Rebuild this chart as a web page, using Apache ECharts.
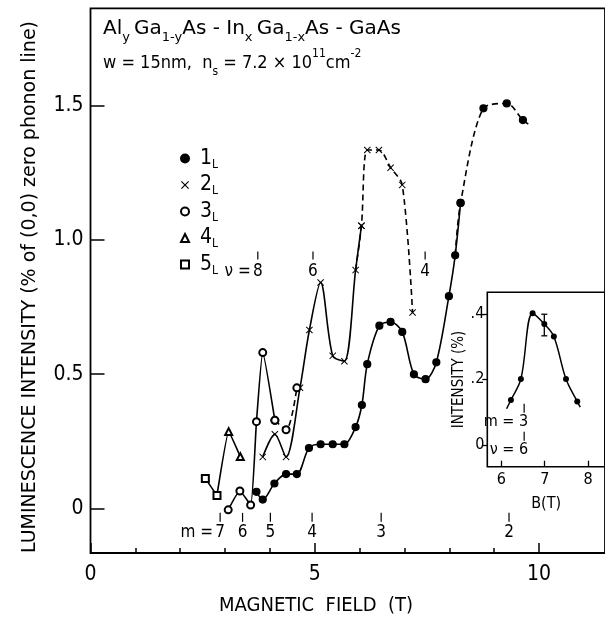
<!DOCTYPE html>
<html><head><meta charset="utf-8">
<script src="https://cdn.jsdelivr.net/npm/echarts@6/dist/echarts.min.js"></script>
<style>html,body{margin:0;padding:0;background:#fff}#c{width:605px;height:617px}</style>
</head><body><div id="c"></div>
<script>
const FONT = "'DejaVu Sans Condensed','Liberation Sans Narrow','DejaVu Sans',sans-serif";
const FONTW = "'DejaVu Sans',sans-serif";

// ---- main chart data (B in tesla, intensity in % of (0,0) zero phonon line)
const l1SolidB = [3.70,3.84,4.10,4.36,4.60,4.87,5.13,5.40,5.66,5.91,6.05,6.17,6.44,6.69,6.95,7.21,7.47,7.71,7.99,8.13,8.25];
const l1SolidI = [0.062,0.033,0.093,0.128,0.128,0.225,0.239,0.239,0.239,0.303,0.385,0.537,0.680,0.694,0.657,0.499,0.481,0.544,0.790,0.942,1.137];
const l1DashB = [8.25,8.76,9.28,9.64];
const l1DashI = [1.137,1.489,1.507,1.445];
const l1TailB = [9.76];
const l1TailI = [1.43];

const l2SolidB = [3.84,4.11,4.36,4.67,4.88,5.13,5.40,5.66,5.91,6.04];
const l2SolidI = [0.192,0.276,0.192,0.449,0.664,0.841,0.568,0.548,0.887,1.052];
const l2DashB = [6.04,6.17,6.43,6.69,6.95,7.18];
const l2DashI = [1.052,1.334,1.334,1.268,1.204,0.729];

const l3SolidB = [3.07,3.33,3.57,3.70,3.84,4.11];
const l3SolidI = [-0.005,0.065,0.013,0.323,0.580,0.328];
const l3DashB = [4.11,4.36,4.60];
const l3DashI = [0.328,0.293,0.449];

const l4B = [2.82,3.08,3.34];
const l4I = [0.05,0.286,0.193];

const l5B = [2.56,2.82];
const l5I = [0.112,0.048];

// Landau level markers
const mB = [2.89,3.39,4.01,4.94,6.48,9.33];
const mLab = ['7','6','5','4','3','2'];
const nuB = [3.73,4.96,7.46];
const nuLab = ['8','6','4'];

const yTicks = [0,0.5,1.0,1.5];
const xMajor = [0,5,10];
const xMinor = [1,2,3,4,6,7,8,9];

// ---- inset data
const insB = [6.22,6.45,6.72,6.99,7.21,7.49,7.75];
const insI = [0.137,0.201,0.402,0.369,0.331,0.201,0.132];
const insHeadB = [6.12], insHeadI = [0.11];
const insTailB = [7.82], insTailI = [0.115];
const errB = [6.99], errLo = [0.333], errHi = [0.399];
const insXTicks = [6,7,8];
const insYTicks = [0,0.2,0.4];

const CROSS = 'path://M0,1L1,0L5,4L9,0L10,1L6,5L10,9L9,10L5,6L1,10L0,9L4,5Z';

function pts(b, i) { return b.map((x, k) => [x, i[k]]); }
function line(name, data, symbol, dashed, extra) {
  return Object.assign({
    type: 'line', name, data, xAxisIndex: 0, yAxisIndex: 0,
    smooth: 0.3, symbol, symbolSize: 7, showSymbol: true,
    lineStyle: { color: '#000', width: 1.6, type: dashed ? [6, 4] : 'solid' },
    itemStyle: { color: '#000', borderColor: '#000', borderWidth: 1.2 },
    silent: true, animation: false, z: 3
  }, extra || {});
}
const hidden = v => ({ value: v, symbol: 'none' });

const chart = echarts.init(document.getElementById('c'), null, { renderer: 'canvas' });

// dashed continuations start one point earlier (no marker) so the curve stays smooth at the junction
const l1Dash = [hidden([l1SolidB[l1SolidB.length - 2], l1SolidI[l1SolidI.length - 2]])]
  .concat(pts(l1DashB, l1DashI)).concat(pts(l1TailB, l1TailI).map(hidden));
const l2Dash = [hidden([l2SolidB[l2SolidB.length - 2], l2SolidI[l2SolidI.length - 2]])]
  .concat(pts(l2DashB, l2DashI));
const l4Data = pts(l4B, l4I).map((v, k) => k === 0 ? hidden(v) : v);
const insData = pts(insHeadB, insHeadI).map(hidden)
  .concat(pts(insB, insI))
  .concat(pts(insTailB, insTailI).map(hidden));

const tickText = { fontSize: 17, fontFamily: FONT, fill: '#000' };
const noLine = { show: false, onZero: false };

const option = {
  backgroundColor: '#fff',
  animation: false,
  grid: [
    { left: 90.5, top: 8.3, right: -6, bottom: 64, show: true, borderColor: '#000', borderWidth: 1.8, backgroundColor: 'transparent' },
    { left: 487.3, top: 292.3, right: -6, height: 174.4, show: true, borderColor: '#000', borderWidth: 1.6, backgroundColor: 'transparent' }
  ],
  xAxis: [
    { type: 'value', gridIndex: 0, min: 0, max: 11.47, position: 'bottom',
      axisLine: noLine, splitLine: { show: false },
      axisTick: { show: true, inside: true, length: 5, customValues: xMinor, lineStyle: { color: '#000', width: 1.5 } },
      axisLabel: { show: false } },
    { type: 'value', gridIndex: 0, min: 0, max: 11.47, position: 'bottom',
      axisLine: noLine, splitLine: { show: false },
      axisTick: { show: true, inside: true, length: 10, customValues: xMajor, lineStyle: { color: '#000', width: 1.5 } },
      axisLabel: { show: true, customValues: xMajor, fontSize: 21, fontFamily: FONT, color: '#000', margin: 11 } },
    { type: 'value', gridIndex: 1, min: 5.675, max: 8.39, position: 'bottom',
      axisLine: noLine, splitLine: { show: false },
      axisTick: { show: true, inside: true, length: 6, customValues: insXTicks, lineStyle: { color: '#000', width: 1.3 } },
      axisLabel: { show: true, customValues: insXTicks, fontSize: 16, fontFamily: FONT, color: '#000', margin: 5 },
      name: 'B(T)', nameLocation: 'middle', nameGap: 29,
      nameTextStyle: { fontSize: 16, fontFamily: FONT, color: '#000' } }
  ],
  yAxis: [
    { type: 'value', gridIndex: 0, min: -0.1656, max: 1.861,
      axisLine: noLine, splitLine: { show: false },
      axisTick: { show: true, inside: true, length: 14, customValues: yTicks, lineStyle: { color: '#000', width: 1.5 } },
      axisLabel: { show: true, customValues: yTicks, fontSize: 21, fontFamily: FONT, color: '#000', margin: 7,
        formatter: v => v === 0 ? '0' : v.toFixed(1) } },
    { type: 'value', gridIndex: 1, min: -0.067, max: 0.466,
      axisLine: noLine, splitLine: { show: false },
      axisTick: { show: true, inside: false, length: 5, customValues: insYTicks, lineStyle: { color: '#000', width: 1.3 } },
      axisLabel: { show: true, customValues: insYTicks, fontSize: 16, fontFamily: FONT, color: '#000', margin: 3,
        formatter: v => v === 0 ? '0' : '.' + Math.round(v * 10) },
      name: 'INTENSITY (%)', nameLocation: 'middle', nameGap: 21, nameRotate: 90,
      nameTextStyle: { fontSize: 15, fontFamily: FONT, color: '#000' } }
  ],
  legend: {
    orient: 'vertical', left: 175, top: 143, itemWidth: 8, itemHeight: 8, itemGap: 4,
    selectedMode: false,
    data: [
      { name: '1L', icon: 'circle' },
      { name: '2L', icon: CROSS },
      { name: '3L', icon: 'emptyCircle' },
      { name: '4L', icon: 'emptyTriangle' },
      { name: '5L', icon: 'emptyRect' }
    ],
    formatter: n => '{a|' + n.charAt(0) + '}{b|L}',
    textStyle: { color: '#000', rich: {
      a: { fontSize: 21, fontFamily: FONT, lineHeight: 24, verticalAlign: 'middle', padding: [0, 0, 0, 6] },
      b: { fontSize: 12, fontFamily: FONT, lineHeight: 6, verticalAlign: 'bottom' }
    } }
  },
  graphic: [
    { type: 'text', left: 103, top: 19, silent: true, style: {
      text: '{n|Al}{s|y }{n|Ga}{s|1-y}{n|As - In}{s|x }{n|Ga}{s|1-x}{n|As - GaAs}',
      rich: {
        n: { fontSize: 20, fontFamily: FONTW, lineHeight: 30, verticalAlign: 'middle', fill: '#000' },
        s: { fontSize: 13, fontFamily: FONTW, lineHeight: 8, verticalAlign: 'bottom', fill: '#000' }
      } } },
    { type: 'text', left: 103, top: 48, silent: true, style: {
      text: '{n|w = 15nm,  n}{s|s}{n| = 7.2 × 10}{p|11}{n|cm}{p|-2}',
      rich: {
        n: { fontSize: 18, fontFamily: FONT, lineHeight: 30, verticalAlign: 'middle', fill: '#000' },
        s: { fontSize: 12, fontFamily: FONT, lineHeight: 8, verticalAlign: 'bottom', fill: '#000' },
        p: { fontSize: 12, fontFamily: FONT, lineHeight: 25, verticalAlign: 'top', fill: '#000' }
      } } },
    { type: 'text', x: 316, y: 606, silent: true, style: {
      text: 'MAGNETIC  FIELD  (T)', fontSize: 20, fontFamily: FONT, fill: '#000', align: 'center', verticalAlign: 'middle' } },
    { type: 'text', x: 30, y: 287, rotation: Math.PI / 2, silent: true, style: {
      text: 'LUMINESCENCE INTENSITY (% of (0,0) zero phonon line)', fontSize: 19, fontFamily: FONTW, fill: '#000', align: 'center', verticalAlign: 'middle' } }
  ],
  series: [
    line('1L', pts(l1SolidB, l1SolidI), 'circle', false),
    line('1L dash', l1Dash, 'circle', true),
    line('2L', pts(l2SolidB, l2SolidI), CROSS, false, { itemStyle: { color: '#000', borderWidth: 0 } }),
    line('2L dash', l2Dash, CROSS, true, { itemStyle: { color: '#000', borderWidth: 0 } }),
    line('3L', pts(l3SolidB, l3SolidI), 'emptyCircle', false, { smooth: 0.15 }),
    line('3L dash', pts(l3DashB, l3DashI), 'emptyCircle', true),
    line('4L', l4Data, 'emptyTriangle', false, { smooth: 0.1 }),
    line('5L', pts(l5B, l5I), 'emptyRect', false, { smooth: 0 }),
    { type: 'line', name: 'inset', xAxisIndex: 2, yAxisIndex: 1, data: insData, smooth: 0.35,
      symbol: 'circle', symbolSize: 6, lineStyle: { color: '#000', width: 1.5 },
      itemStyle: { color: '#000' }, silent: true, animation: false },
    { type: 'custom', name: 'errbar', xAxisIndex: 2, yAxisIndex: 1, silent: true,
      data: errB.map((b, k) => [b, errLo[k], errHi[k]]),
      renderItem: (params, api) => {
        const lo = api.coord([api.value(0), api.value(1)]);
        const hi = api.coord([api.value(0), api.value(2)]);
        const st = { stroke: '#000', lineWidth: 1.3 };
        return { type: 'group', children: [
          { type: 'line', shape: { x1: lo[0], y1: lo[1], x2: hi[0], y2: hi[1] }, style: st },
          { type: 'line', shape: { x1: lo[0] - 3, y1: lo[1], x2: lo[0] + 3, y2: lo[1] }, style: st },
          { type: 'line', shape: { x1: hi[0] - 3, y1: hi[1], x2: hi[0] + 3, y2: hi[1] }, style: st }
        ] };
      } },
    { type: 'custom', name: 'm labels', xAxisIndex: 0, yAxisIndex: 0, silent: true,
      data: mB.map(b => [b, -0.033]),
      renderItem: (params, api) => {
        const k = params.dataIndex;
        const p = api.coord([api.value(0), api.value(1)]);
        const ch = [
          { type: 'line', shape: { x1: p[0], y1: p[1] - 4.5, x2: p[0], y2: p[1] + 4.5 }, style: { stroke: '#000', lineWidth: 1.2 } },
          { type: 'text', x: p[0], y: p[1] + 15, style: Object.assign({ text: mLab[k], align: 'center', verticalAlign: 'middle' }, tickText) }
        ];
        if (k === 0) ch.push({ type: 'text', x: p[0] - 7, y: p[1] + 15, style: Object.assign({ text: 'm =', align: 'right', verticalAlign: 'middle' }, tickText) });
        return { type: 'group', children: ch };
      } },
    { type: 'custom', name: 'nu labels', xAxisIndex: 0, yAxisIndex: 0, silent: true,
      data: nuB.map(b => [b, 0.941]),
      renderItem: (params, api) => {
        const k = params.dataIndex;
        const p = api.coord([api.value(0), api.value(1)]);
        const ch = [
          { type: 'line', shape: { x1: p[0], y1: p[1] - 4, x2: p[0], y2: p[1] + 4 }, style: { stroke: '#000', lineWidth: 1.2 } },
          { type: 'text', x: p[0], y: p[1] + 16, style: Object.assign({ text: nuLab[k], align: 'center', verticalAlign: 'middle' }, tickText) }
        ];
        if (k === 0) ch.push({ type: 'text', x: p[0] - 7, y: p[1] + 16, style: Object.assign({ text: 'ν =', align: 'right', verticalAlign: 'middle' }, tickText) });
        return { type: 'group', children: ch };
      } },
    { type: 'custom', name: 'inset labels', xAxisIndex: 2, yAxisIndex: 1, silent: true,
      data: [[6.525, 0.07]],
      renderItem: (params, api) => {
        const p = api.coord([api.value(0), api.value(1)]);
        const st = { stroke: '#000', lineWidth: 1.2 };
        const ts = { fontSize: 16, fontFamily: FONT, fill: '#000' };
        return { type: 'group', children: [
          { type: 'line', shape: { x1: p[0], y1: p[1] - 18, x2: p[0], y2: p[1] - 9 }, style: st },
          { type: 'text', x: p[0] + 4, y: p[1], style: Object.assign({ text: 'm = 3', align: 'right', verticalAlign: 'middle' }, ts) },
          { type: 'line', shape: { x1: p[0], y1: p[1] + 10, x2: p[0], y2: p[1] + 19 }, style: st },
          { type: 'text', x: p[0] + 4, y: p[1] + 28, style: Object.assign({ text: 'ν = 6', align: 'right', verticalAlign: 'middle' }, ts) }
        ] };
      } }
  ]
};
chart.setOption(option);
</script></body></html>
